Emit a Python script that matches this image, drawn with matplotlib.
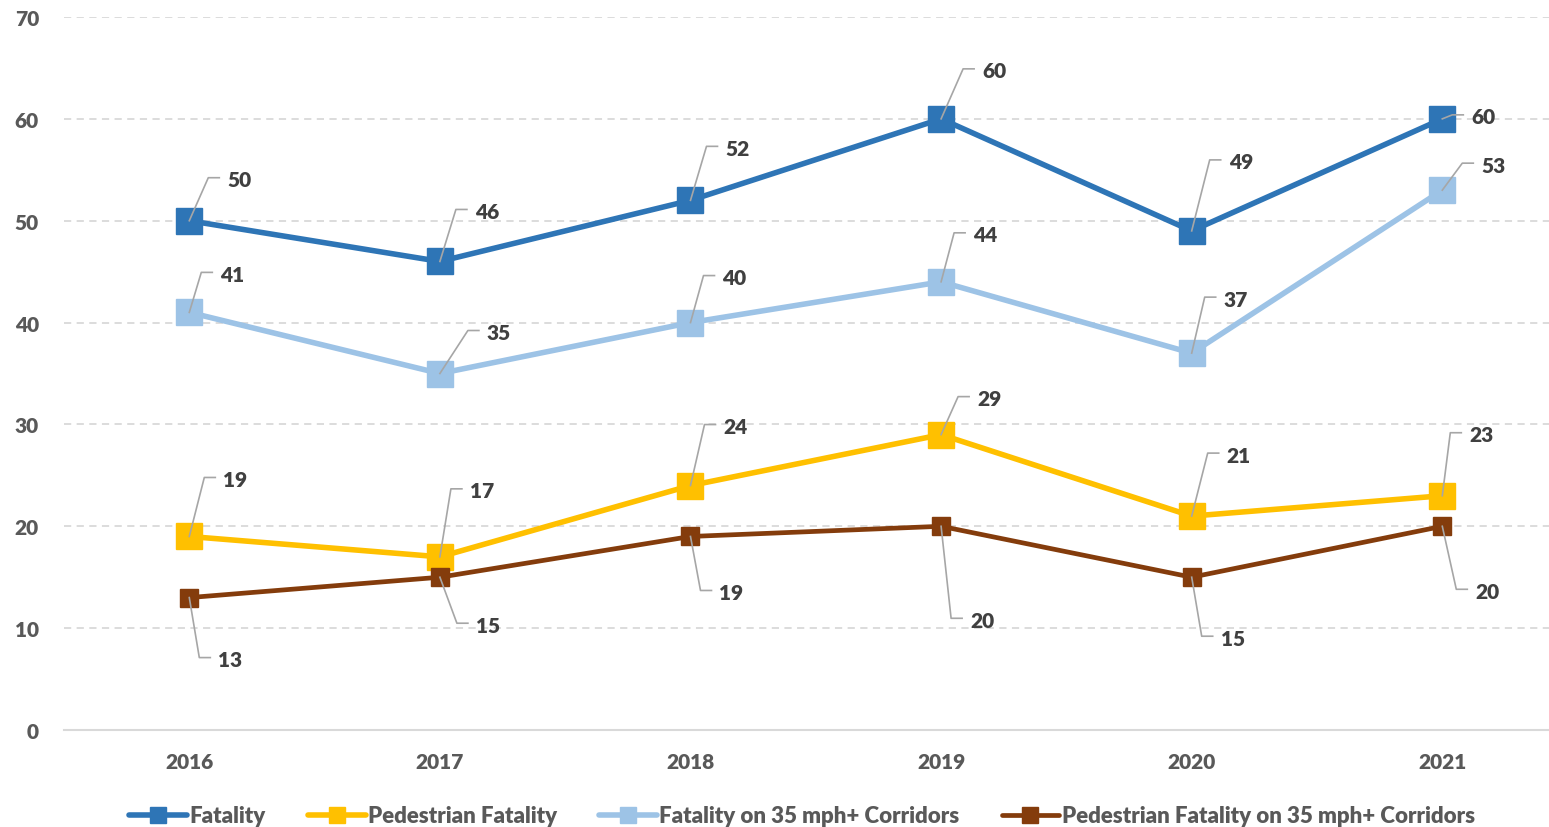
import matplotlib
matplotlib.use("Agg")
import matplotlib.pyplot as plt
from matplotlib.lines import Line2D
from matplotlib.transforms import IdentityTransform

plt.rcParams['font.family'] = ['Lato', 'DejaVu Sans']

years = ["2016", "2017", "2018", "2019", "2020", "2021"]
fatality = [50, 46, 52, 60, 49, 60]
ped_fatality = [19, 17, 24, 29, 21, 23]
fatality_35 = [41, 35, 40, 44, 37, 53]
ped_fatality_35 = [13, 15, 19, 20, 15, 20]
series_names = ["Fatality", "Pedestrian Fatality",
                "Fatality on 35 mph+ Corridors",
                "Pedestrian Fatality on 35 mph+ Corridors"]
yticks = [0, 10, 20, 30, 40, 50, 60, 70]

# label placement (pixels: text left edge dx, text centre dy relative to marker)
label_offsets = {
    "Fatality": [(38, 41), (35, 50), (35, 52), (41, 48), (37, 69), (29, 2)],
    "Pedestrian Fatality": [(34, 57), (30, 66), (33, 59), (36, 36), (35, 61), (27, 61)],
    "Fatality on 35 mph+ Corridors": [(31, 38), (47, 41), (32, 45), (32, 47), (32, 54), (39, 25)],
    "Pedestrian Fatality on 35 mph+ Corridors": [(29, -62), (36, -48), (29, -56), (29, -94), (29, -61), (33, -65)],
}

colors = ["#2E75B6", "#FFC000", "#9DC3E6", "#843C0C"]
values = [fatality, ped_fatality, fatality_35, ped_fatality_35]
lws = [4.0, 4.0, 4.0, 3.4]
msizes = [18.5, 18.5, 18.5, 13]

W, H = 1549, 828
fig = plt.figure(figsize=(W / 100, H / 100), dpi=100)
ax_left, ax_bottom = 64 / W, (H - 731) / H
ax_top = (H - 18) / H
ax = fig.add_axes([ax_left, ax_bottom, (W - 64) / W, ax_top - ax_bottom])

x = list(range(len(years)))
span = (W - 64) / 250.6
ax.set_xlim(-0.5, -0.5 + span)
ax.set_ylim(0, 70)

for v, c, lw, ms, name in zip(values, colors, lws, msizes, series_names):
    ax.plot(x, v, color=c, lw=lw, marker='s', ms=ms, mec=c, mfc=c,
            solid_joinstyle='miter', zorder=3, label=name)

ax.set_yticks(yticks)
ax.set_xticks(x)
ax.set_xticklabels(years)
for t in ax.get_yticklabels() + ax.get_xticklabels():
    t.set_fontweight('heavy')
    t.set_color('#595959')
    t.set_fontsize(15)
ax.tick_params(axis='both', length=0)
ax.tick_params(axis='y', pad=18)
ax.tick_params(axis='x', pad=16)
for s in ['top', 'right', 'left']:
    ax.spines[s].set_visible(False)
ax.spines['bottom'].set_color('#D9D9D9')
ax.spines['bottom'].set_linewidth(1.5)
for yv in yticks[1:]:
    ax.axhline(yv, color='#D9D9D9', lw=1.3, ls=(0, (4, 3)), zorder=1)

# data labels with leader lines
fig.canvas.draw()
for v, name in zip(values, series_names):
    for xi, yi, (dx, dy) in zip(x, v, label_offsets[name]):
        px, py = ax.transData.transform((xi, yi))
        tx, ty = px + dx, py + dy
        seg_end = tx - 8
        seg_start = seg_end - 11
        ly = ty + 2
        fig.add_artist(Line2D([px, seg_start, seg_end], [py, ly, ly],
                              transform=IdentityTransform(), color='#A6A6A6',
                              lw=1.2, zorder=5))
        fig.text(tx / W, ty / H, str(yi), ha='left', va='center',
                 fontsize=15, fontweight='heavy', color='#404040', zorder=6)

handles = [Line2D([0], [0], color=c, lw=lw, marker='s', ms=11, mec=c, mfc=c,
                  solid_capstyle='round') for c, lw in zip(colors, lws)]
leg = fig.legend(handles, series_names, loc='center', bbox_to_anchor=(802 / W, 11 / H),
                 ncol=4, frameon=False, handlelength=2.6, handletextpad=0.1,
                 columnspacing=1.9, prop={'weight': 'heavy', 'size': 16})
for t in leg.get_texts():
    t.set_color('#595959')

fig.savefig('out.png', dpi=100)
